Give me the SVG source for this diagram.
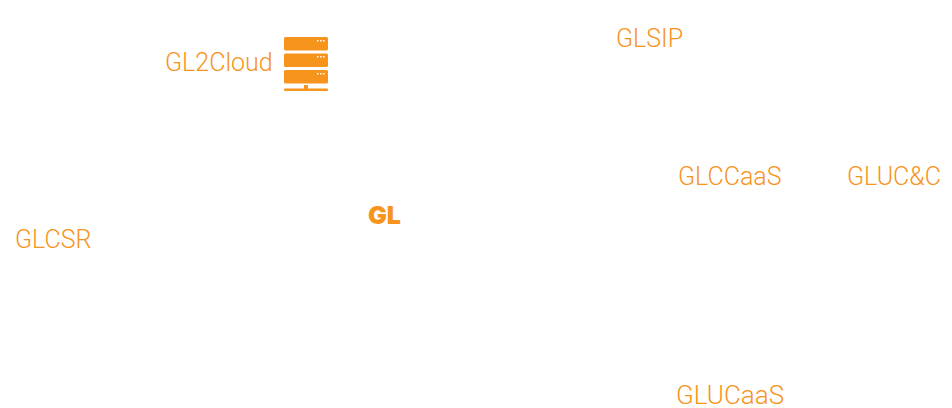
<svg xmlns="http://www.w3.org/2000/svg" width="952" height="408" viewBox="0 0 952 408">
<style>
.l{font-family:"Roboto","Liberation Sans",sans-serif;font-weight:300;font-size:25px;fill:#f7941d}
.b{fill:#f7941d}
</style>
<rect width="952" height="408" fill="#fff"/>
<g id="gl2cloud"><text class="l" x="165" y="70.500">GL2Cloud</text>
<g class="b"><rect x="284" y="37" width="44" height="13.500" rx="1.500"/><rect x="284" y="53.500" width="44" height="13.500" rx="1.500"/><rect x="284" y="70" width="44" height="13.500" rx="1.500"/><rect x="304" y="85" width="4" height="4"/><rect x="284" y="88.500" width="44" height="2.500" rx="1"/></g>
<g fill="#fff"><rect x="317" y="40" width="1.500" height="1.500"/><rect x="320" y="40" width="1.500" height="1.500"/><rect x="323" y="40" width="1.500" height="1.500"/><rect x="317" y="56" width="1.500" height="1.500"/><rect x="320" y="56" width="1.500" height="1.500"/><rect x="323" y="56" width="1.500" height="1.500"/><rect x="317" y="73" width="1.500" height="1.500"/><rect x="320" y="73" width="1.500" height="1.500"/><rect x="323" y="73" width="1.500" height="1.500"/></g></g>
<g id="glsip"><text class="l" x="616" y="46.500">GLSIP</text></g>
<g id="glccaas"><text class="l" x="678" y="184.500">GLCCaaS</text></g>
<g id="gluc-c"><text class="l" x="847" y="184.500">GLUC&amp;C</text></g>
<g id="glcsr"><text class="l" x="15" y="247.500">GLCSR</text></g>
<g id="glucaas"><text class="l" x="676" y="403.500" style="font-size:26px">GLUCaaS</text></g>
<g id="gl"><text x="368" y="224" font-family="Inter,'Liberation Sans',sans-serif" font-weight="900" font-size="25" fill="#f7941d">GL</text></g>
<g id="connectors"/>
</svg>
